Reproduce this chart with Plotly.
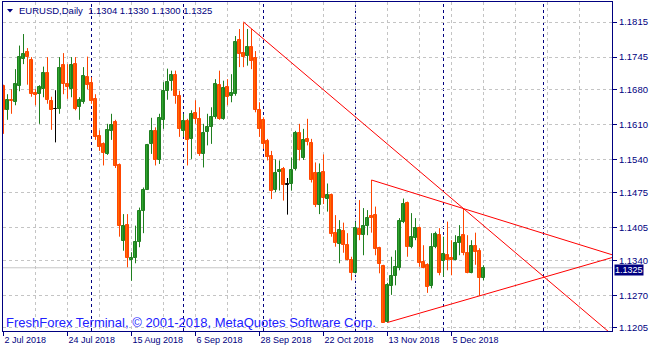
import plotly.graph_objects as go

# ---------------- data ----------------
x_tick_idx = [0, 16, 32, 48, 64, 80, 96, 112]
x_tick_text = ["2 Jul 2018", "24 Jul 2018", "15 Aug 2018", "6 Sep 2018",
               "28 Sep 2018", "22 Oct 2018", "13 Nov 2018", "5 Dec 2018"]
y_tick_vals = [1.1815, 1.1745, 1.1680, 1.1610, 1.1540, 1.1475, 1.1405, 1.1340, 1.1270, 1.1205]
y_tick_text = ["1.1815", "1.1745", "1.1680", "1.1610", "1.1540", "1.1475", "1.1405", "1.1340", "1.1270", "1.1205"]
month_separators = [22, 45, 65, 88, 110, 135]

opens = [1.1688, 1.1639, 1.1660, 1.1655, 1.1688, 1.1741, 1.1755, 1.1739, 1.1673, 1.1671,
         1.1681, 1.1713, 1.1657, 1.1641, 1.1642, 1.1729, 1.1691, 1.1681, 1.1732, 1.1645,
         1.1655, 1.1706, 1.1693, 1.1661, 1.1587, 1.1572, 1.1552, 1.1597, 1.1615, 1.1529,
         1.1379, 1.1410, 1.1341, 1.1344, 1.1376, 1.1439, 1.1480, 1.1571, 1.1597, 1.1539,
         1.1620, 1.1678, 1.1698, 1.1709, 1.1668, 1.1597, 1.1617, 1.1582, 1.1633, 1.1622,
         1.1552, 1.1595, 1.1605, 1.1626, 1.1689, 1.1622, 1.1685, 1.1668, 1.1671, 1.1779,
         1.1753, 1.1748, 1.1765, 1.1743, 1.1640, 1.1620, 1.1578, 1.1548, 1.1480, 1.1515,
         1.1522, 1.1491, 1.1492, 1.1522, 1.1593, 1.1543, 1.1582, 1.1573, 1.1513, 1.1451,
         1.1515, 1.1463, 1.1470, 1.1394, 1.1373, 1.1398, 1.1371, 1.1341, 1.1314, 1.1402,
         1.1391, 1.1409, 1.1428, 1.1430, 1.1364, 1.1329, 1.1217, 1.1288, 1.1308, 1.1324,
         1.1417, 1.1454, 1.1367, 1.1384, 1.1404, 1.1337, 1.1331, 1.1288, 1.1367, 1.1390,
         1.1339, 1.1350, 1.1344, 1.1341, 1.1375, 1.1390, 1.1354, 1.1315, 1.1369, 1.1358,
         1.1304]
highs = [1.1690, 1.1671, 1.1681, 1.1721, 1.1768, 1.1791, 1.1763, 1.1745, 1.1681, 1.1689,
         1.1726, 1.1745, 1.1666, 1.1679, 1.1745, 1.1753, 1.1731, 1.1745, 1.1745, 1.1665,
         1.1725, 1.1746, 1.1705, 1.1671, 1.1599, 1.1575, 1.1612, 1.1632, 1.1620, 1.1533,
         1.1432, 1.1432, 1.1356, 1.1409, 1.1445, 1.1485, 1.1572, 1.1624, 1.1605, 1.1632,
         1.1695, 1.1722, 1.1718, 1.1718, 1.1678, 1.1632, 1.1622, 1.1639, 1.1659, 1.1645,
         1.1612, 1.1632, 1.1645, 1.1701, 1.1718, 1.1698, 1.1701, 1.1711, 1.1787, 1.1801,
         1.1814, 1.1801, 1.1801, 1.1757, 1.1655, 1.1625, 1.1582, 1.1558, 1.1541, 1.1539,
         1.1526, 1.1504, 1.1545, 1.1598, 1.1612, 1.1602, 1.1622, 1.1582, 1.1535, 1.1533,
         1.1551, 1.1493, 1.1473, 1.1430, 1.1420, 1.1415, 1.1394, 1.1347, 1.1417, 1.1460,
         1.1444, 1.1440, 1.1500, 1.1447, 1.1367, 1.1331, 1.1295, 1.1347, 1.1360, 1.1424,
         1.1463, 1.1457, 1.1434, 1.1424, 1.1407, 1.1370, 1.1334, 1.1394, 1.1397, 1.1404,
         1.1387, 1.1417, 1.1380, 1.1390, 1.1410, 1.1443, 1.1390, 1.1380, 1.1395, 1.1364,
         1.1330]
lows = [1.1592, 1.1620, 1.1632, 1.1649, 1.1677, 1.1731, 1.1690, 1.1666, 1.1649, 1.1612,
        1.1665, 1.1652, 1.1600, 1.1575, 1.1632, 1.1671, 1.1662, 1.1665, 1.1639, 1.1620,
        1.1652, 1.1681, 1.1652, 1.1580, 1.1558, 1.1529, 1.1550, 1.1580, 1.1524, 1.1387,
        1.1359, 1.1326, 1.1299, 1.1334, 1.1366, 1.1394, 1.1480, 1.1552, 1.1529, 1.1532,
        1.1602, 1.1660, 1.1678, 1.1652, 1.1586, 1.1586, 1.1529, 1.1542, 1.1612, 1.1548,
        1.1525, 1.1569, 1.1572, 1.1622, 1.1620, 1.1620, 1.1649, 1.1655, 1.1668, 1.1725,
        1.1725, 1.1728, 1.1721, 1.1635, 1.1586, 1.1562, 1.1539, 1.1462, 1.1476, 1.1479,
        1.1459, 1.1431, 1.1479, 1.1519, 1.1539, 1.1540, 1.1569, 1.1495, 1.1446, 1.1432,
        1.1452, 1.1437, 1.1387, 1.1367, 1.1334, 1.1355, 1.1340, 1.1300, 1.1314, 1.1380,
        1.1350, 1.1390, 1.1395, 1.1350, 1.1314, 1.1215, 1.1216, 1.1271, 1.1290, 1.1320,
        1.1414, 1.1347, 1.1364, 1.1380, 1.1327, 1.1324, 1.1275, 1.1284, 1.1364, 1.1310,
        1.1307, 1.1320, 1.1310, 1.1340, 1.1350, 1.1350, 1.1314, 1.1314, 1.1331, 1.1269,
        1.1300]
closes = [1.1640, 1.1660, 1.1657, 1.1691, 1.1746, 1.1751, 1.1745, 1.1671, 1.1670, 1.1686,
          1.1713, 1.1660, 1.1639, 1.1641, 1.1723, 1.1691, 1.1685, 1.1729, 1.1642, 1.1660,
          1.1707, 1.1690, 1.1657, 1.1586, 1.1565, 1.1553, 1.1600, 1.1609, 1.1527, 1.1409,
          1.1408, 1.1344, 1.1344, 1.1376, 1.1439, 1.1480, 1.1570, 1.1597, 1.1539, 1.1624,
          1.1677, 1.1695, 1.1709, 1.1668, 1.1602, 1.1618, 1.1580, 1.1632, 1.1622, 1.1552,
          1.1593, 1.1606, 1.1625, 1.1691, 1.1622, 1.1683, 1.1666, 1.1673, 1.1776, 1.1751,
          1.1746, 1.1766, 1.1738, 1.1640, 1.1602, 1.1572, 1.1546, 1.1479, 1.1513, 1.1520,
          1.1491, 1.1491, 1.1520, 1.1593, 1.1560, 1.1580, 1.1575, 1.1500, 1.1451, 1.1513,
          1.1464, 1.1470, 1.1392, 1.1374, 1.1401, 1.1371, 1.1341, 1.1314, 1.1404, 1.1390,
          1.1408, 1.1425, 1.1424, 1.1362, 1.1333, 1.1215, 1.1290, 1.1308, 1.1327, 1.1419,
          1.1452, 1.1367, 1.1387, 1.1404, 1.1334, 1.1325, 1.1287, 1.1367, 1.1392, 1.1315,
          1.1352, 1.1340, 1.1340, 1.1374, 1.1387, 1.1354, 1.1315, 1.1368, 1.1357, 1.1304,
          1.1325]

# trend lines: two anchor points (bar index, price) each
trend_x = [[60, 115], [92, 115], [96, 119]]
trend_y = [[1.1815, 1.1443], [1.1500, 1.1443], [1.1216, 1.1269]]

symbol_header = "EURUSD,Daily\u00a0\u00a01.1304 1.1330 1.1300 1.1325"
bid_price = 1.1325
copyright_text = "FreshForex Terminal, \u00a9 2001-2018, MetaQuotes Software Corp."

n = len(opens)
assert len(highs) == n and len(lows) == n and len(closes) == n
idx = list(range(n))

# ---------------- styling ----------------
NAVY = "#000080"
BULL_FILL, BULL_LINE = "#2ea82e", "#1f7f1f"
BEAR_FILL, BEAR_LINE = "#ff6a00", "#ff4500"
DOJI = "#000000"
GRID = "#c4c4c4"

X0, X1 = -0.125, 152.125
Y0, Y1 = 1.119897, 1.185487

fig = go.Figure()

groups = {"bull": [], "bear": [], "doji": []}
for i in idx:
    if closes[i] > opens[i]:
        groups["bull"].append(i)
    elif closes[i] < opens[i]:
        groups["bear"].append(i)
    else:
        groups["doji"].append(i)

colors = {"bull": (BULL_FILL, BULL_LINE), "bear": (BEAR_FILL, BEAR_LINE), "doji": (DOJI, DOJI)}

# wicks
for g, members in groups.items():
    wx, wy = [], []
    for i in members:
        wx += [i, i, None]
        wy += [lows[i], highs[i], None]
    fig.add_trace(go.Scatter(x=wx, y=wy, mode="lines",
                             line=dict(color=colors[g][1], width=1),
                             hoverinfo="skip", showlegend=False))

# bodies
for g, members in groups.items():
    base = [min(opens[i], closes[i]) for i in members]
    height = [max(abs(closes[i] - opens[i]), 0.00002) for i in members]
    fig.add_trace(go.Bar(x=members, y=height, base=base, width=0.75,
                         marker=dict(color=colors[g][0],
                                     line=dict(color=colors[g][1], width=1)),
                         hoverinfo="skip", showlegend=False))

# trend lines (rays extended to the right)
for tx, ty in zip(trend_x, trend_y):
    slope = (ty[1] - ty[0]) / (tx[1] - tx[0])
    xe = 170
    ye = ty[0] + slope * (xe - tx[0])
    fig.add_trace(go.Scatter(x=[tx[0], xe], y=[ty[0], ye], mode="lines",
                             line=dict(color="#ff0000", width=1),
                             hoverinfo="skip", showlegend=False))

shapes = []
# bid line
shapes.append(dict(type="line", xref="paper", yref="y", x0=0, x1=1, y0=bid_price, y1=bid_price,
                   line=dict(color="#c8c8c8", width=1), layer="below"))
# month separators
for s in month_separators:
    shapes.append(dict(type="line", xref="x", yref="paper", x0=s, x1=s, y0=0, y1=1,
                       line=dict(color=NAVY, width=1, dash="3px,3px"), layer="below"))
# header triangle (pixel-ish paper coordinates)
def px(xp):
    return (xp - 3) / 609.0
def py(yp):
    return (331 - yp) / 329.0
shapes.append(dict(type="path", xref="paper", yref="paper",
                   path=f"M {px(7)},{py(9)} L {px(13)},{py(9)} L {px(10)},{py(12.5)} Z",
                   fillcolor=NAVY, line=dict(color=NAVY, width=0)))

annotations = [
    dict(text=symbol_header, xref="paper", yref="paper", x=px(17), y=py(10.8),
         xanchor="left", yanchor="middle", showarrow=False,
         font=dict(family="Liberation Sans, Arial", size=9.5, color=NAVY)),
    dict(text=copyright_text, xref="paper", yref="paper", x=px(4), y=py(322),
         xanchor="left", yanchor="middle", showarrow=False,
         font=dict(family="Liberation Sans, Arial", size=13, color="#2020ff")),
    dict(text=f"{bid_price:.4f}", xref="paper", yref="y", x=1, y=bid_price,
         xanchor="left", yanchor="middle", xshift=2, yshift=-2, showarrow=False,
         bgcolor=NAVY, borderpad=0,
         font=dict(family="Liberation Sans, Arial", size=9, color="#ffffff")),
]

fig.update_layout(
    width=653, height=352,
    margin=dict(l=3, r=41, t=2, b=21, pad=0),
    paper_bgcolor="white", plot_bgcolor="white",
    showlegend=False, bargap=0, barmode="overlay",
    shapes=shapes, annotations=annotations,
    xaxis=dict(range=[X0, X1], tickmode="array", tickvals=x_tick_idx, ticktext=x_tick_text,
               ticks="outside", ticklen=4, tickcolor=NAVY, ticklabelposition="outside right",
               tickfont=dict(family="Liberation Sans, Arial", size=9, color=NAVY),
               showgrid=True, gridcolor=GRID, griddash="3px,3px", gridwidth=1,
               minor=dict(tickmode="linear", tick0=0, dtick=8, showgrid=True,
                          gridcolor=GRID, griddash="3px,3px", ticks=""),
               showline=True, linecolor=NAVY, linewidth=1, mirror=True,
               zeroline=False, fixedrange=True),
    yaxis=dict(range=[Y0, Y1], side="right", tickmode="array", tickvals=y_tick_vals,
               ticktext=y_tick_text, ticks="outside", ticklen=4, tickcolor=NAVY,
               tickfont=dict(family="Liberation Sans, Arial", size=9.5, color=NAVY),
               showgrid=True, gridcolor=GRID, griddash="3px,3px", gridwidth=1,
               showline=True, linecolor=NAVY, linewidth=1, mirror=True,
               zeroline=False, fixedrange=True),
)

fig.write_html("out.html")
